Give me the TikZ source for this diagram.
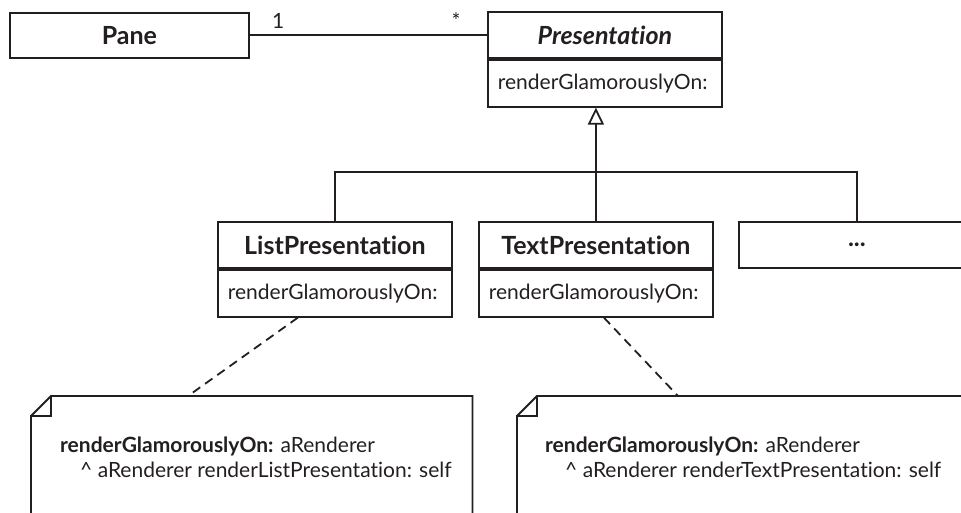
\documentclass[tikz,border=0pt]{standalone}
\usepackage{fontspec}
\setmainfont[Ligatures=NoCommon]{Lato}
\usetikzlibrary{arrows.meta,calc}
\definecolor{ink}{RGB}{35,31,32}
\begin{document}
\begin{tikzpicture}[x=1pt,y=-1pt,
  inkline/.style={draw=ink, line width=1.8pt},
  txt/.style={text=ink, font=\fontsize{21}{25}\selectfont},
  header/.style={inkline, txt, minimum width=234pt, minimum height=46pt, inner sep=0pt, anchor=north west, font=\fontsize{25}{28}\selectfont\bfseries},
  ops/.style={inkline, txt, minimum width=234pt, minimum height=47pt, inner sep=0pt, anchor=north west, text width=214pt, align=left},
  notearea/.style={minimum width=441pt, minimum height=140pt, inner sep=0pt, anchor=north west},
  notetext/.style={txt, anchor=west, align=left, inner sep=0pt},
  notelink/.style={inkline, dash pattern=on 9pt off 6pt},
  gen/.style={inkline, -{Triangle[open, length=17pt, width=16pt, line width=1.8pt]}}
]
\useasboundingbox (0,0) rectangle (961,513);
\clip (0,0) rectangle (961,513);
\fill[white] (0,0) rectangle (961,513);

% classes
\node[header, minimum width=239pt, minimum height=45pt] (pane) at (9,12) {Pane};
\node[header] (pres) at (487,11) {\itshape Presentation};
\node[ops] (presops) at (pres.south west) {renderGlamorouslyOn:};

\node[header] (list) at (217,221) {ListPresentation};
\node[ops] (listops) at (list.south west) {renderGlamorouslyOn:};

\node[header] (text) at (478,221) {TextPresentation};
\node[ops] (textops) at (text.south west) {renderGlamorouslyOn:};

\node[header, minimum width=236pt] (more) at (738,221) {...};

% association
\draw[inkline] (pane.east) -- node[txt, pos=0.12, above=3pt]{1} node[txt, pos=0.87, above=3pt]{*} (pane.east -| pres.west);

% generalization
\coordinate (j) at (595,172);
\draw[inkline] (list.north) |- (more.north |- j) -- (more.north);
\draw[gen] (text.north) -- (text.north |- presops.south);

% notes
\node[notearea] (note1) at (31,396) {};
\node[notearea, minimum width=470pt] (note2) at (517,396) {};
\foreach \n in {note1,note2}{
  \draw[inkline, line join=miter] ($(\n.north west)+(0,20)$) -- ($(\n.north west)+(20,0)$) -- (\n.north east) -- ($(\n.south east)+(0,30)$);
  \draw[inkline, line join=miter] ($(\n.south west)+(0,30)$) -- ($(\n.north west)+(0,20)$) -- ($(\n.north west)+(20,20)$) -- ($(\n.north west)+(20,0)$);
}
\node[notetext] (t1) at (60,457) {\textbf{renderGlamorouslyOn:} aRenderer\\\hspace*{20pt}\textasciicircum\ aRenderer renderListPresentation: self};
\node[notetext] (t2) at (545,457) {\textbf{renderGlamorouslyOn:} aRenderer\\\hspace*{20pt}\textasciicircum\ aRenderer renderTextPresentation: self};

\coordinate (n1end) at (188,396);
\coordinate (n2end) at (678,396);
\draw[notelink] ($(listops.south)+(-37,0)$) -- (n1end);
\draw[notelink] ($(textops.south)+(8,0)$) -- (n2end);
\end{tikzpicture}
\end{document}
